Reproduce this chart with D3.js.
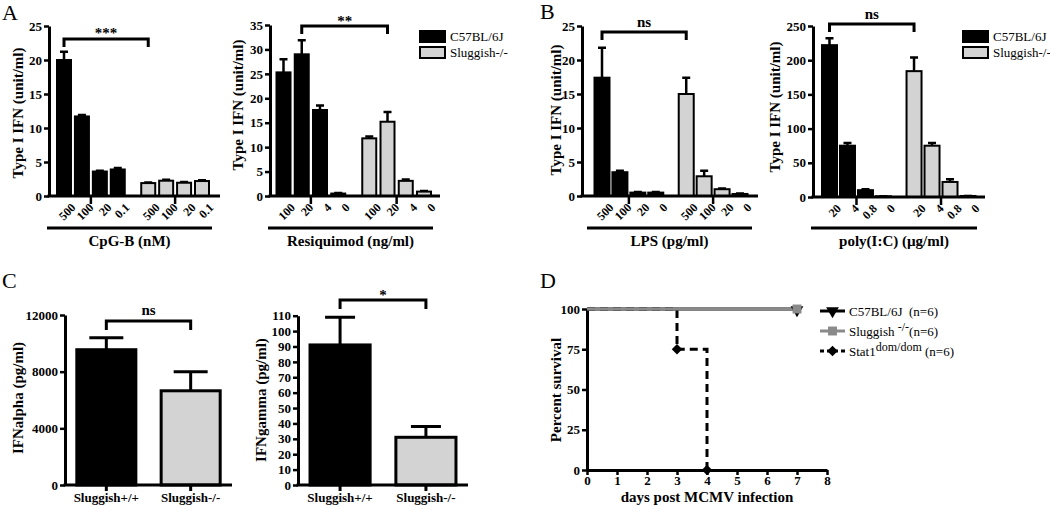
<!DOCTYPE html>
<html><head><meta charset="utf-8">
<script src="https://cdn.jsdelivr.net/npm/d3@7"></script>
<style>
body{margin:0;background:#fff}
svg{display:block}
text{font-family:"Liberation Serif","Times New Roman",serif;fill:#000}
</style>
</head><body>
<svg id="c" width="1050" height="507"></svg>
<script>
// ---------- DATA ----------
const strains = ["C57BL/6J", "Sluggish-/-"];
const cpgDoses = ["500", "100", "20", "0.1"];
const cpgWT = [20.0, 11.7, 3.6, 3.9];
const cpgWTErr = [1.2, 0.2, 0.1, 0.2];
const cpgKO = [1.9, 2.25, 1.95, 2.2];
const cpgKOErr = [0.1, 0.15, 0.1, 0.1];

const resDoses = ["100", "20", "4", "0"];
const resWT = [25.3, 29.0, 17.6, 0.5];
const resWTErr = [2.7, 2.9, 0.9, 0.1];
const resKO = [11.8, 15.2, 3.1, 0.9];
const resKOErr = [0.4, 2.0, 0.3, 0.1];

const lpsDoses = ["500", "100", "20", "0"];
const lpsWT = [17.4, 3.5, 0.5, 0.5];
const lpsWTErr = [4.4, 0.2, 0.1, 0.1];
const lpsKO = [15.0, 2.9, 1.0, 0.3];
const lpsKOErr = [2.4, 0.8, 0.1, 0.05];

const polyDoses = ["20", "4", "0.8", "0"];
const polyWT = [222, 75, 10, 1];
const polyWTErr = [10, 4, 1.5, 0];
const polyKO = [184, 75, 22, 1.5];
const polyKOErr = [20, 4, 4, 0];

const cGroups = ["Sluggish+/+", "Sluggish-/-"];
const ifnAlpha = [9550, 6650];
const ifnAlphaErr = [850, 1350];
const alphaTicks = [0, 4000, 8000, 12000];
const ifnGamma = [91, 31];
const ifnGammaErr = [18, 7];
const gammaTicks = d3.range(0, 111, 10);

const survDays = [0, 1, 2, 3, 4, 5, 6, 7, 8];
const survTicks = [0, 25, 50, 75, 100];
const survC57 = [[0, 100], [7, 100]];
const survSlug = [[0, 100], [7, 100]];
const survStat1 = [[0, 100], [3, 75], [4, 0]];
const survLegend = ["C57BL/6J", "Sluggish", "Stat1"];

// ---------- DRAW ----------
const svg = d3.select("#c");
const BLACK = "#000", GREY = "#d3d3d3", LGREY = "#8a8a8a";

function styleAxis(g, fs) {
  g.select(".domain").attr("stroke", BLACK).attr("stroke-width", 3);
  g.selectAll(".tick line").attr("stroke", BLACK).attr("stroke-width", 2.5);
  g.selectAll(".tick text").attr("font-family", '"Liberation Serif",serif')
    .attr("font-weight", "bold").attr("font-size", fs || 13).attr("fill", BLACK);
}

function barPanel(c) {
  const g = svg.append("g");
  const slots = [0, 1, 2, 3, 4.7, 5.7, 6.7, 7.7];
  const x = d3.scaleLinear().domain([0, 7.7]).range([c.firstC, c.lastC]);
  const y = d3.scaleLinear().domain([0, c.max]).range([c.y0, c.yTop]);
  const data = c.labels.map((l, i) => ({l, v: c.wt[i], e: c.wtErr[i], fill: BLACK, s: slots[i]}))
    .concat(c.labels.map((l, i) => ({l, v: c.ko[i], e: c.koErr[i], fill: GREY, s: slots[i + 4]})));
  const bw = c.bw || 14;
  g.selectAll(".eb").data(data).join("path")
    .attr("d", d => `M${x(d.s)},${y(d.v)}V${y(d.v + d.e)}M${x(d.s) - 4},${y(d.v + d.e)}H${x(d.s) + 4}`)
    .attr("stroke", BLACK).attr("stroke-width", 2.5).attr("fill", "none");
  g.selectAll(".bar").data(data).join("rect")
    .attr("x", d => x(d.s) - bw / 2).attr("y", d => y(d.v))
    .attr("width", bw).attr("height", d => c.y0 - y(d.v))
    .attr("fill", d => d.fill).attr("stroke", BLACK).attr("stroke-width", 2);
  const ya = g.append("g").attr("transform", `translate(${c.axisX},0)`)
    .call(d3.axisLeft(y).tickValues(d3.range(0, c.max + 0.001, c.step)).tickSize(5).tickSizeOuter(0).tickPadding(2));
  styleAxis(ya);
  g.append("line").attr("x1", c.axisX - 1.5).attr("x2", c.xEnd).attr("y1", c.y0).attr("y2", c.y0)
    .attr("stroke", BLACK).attr("stroke-width", 3);
  [1.5, 6.2].forEach(s => g.append("line").attr("x1", x(s)).attr("x2", x(s))
    .attr("y1", c.y0).attr("y2", c.y0 + 8).attr("stroke", BLACK).attr("stroke-width", 2.5));
  const lab = g.selectAll("g.xl").data(data).join("g").attr("class", "xl")
    .attr("transform", d => `translate(${x(d.s) + 6},${c.y0 + 6})`);
  lab.append("text").attr("transform", "rotate(-45)")
    .attr("text-anchor", "end").attr("dy", "0.75em")
    .attr("font-size", 12).attr("font-weight", "bold").text(d => d.l);
  g.append("line").attr("x1", c.ulStart).attr("x2", c.ulEnd).attr("y1", 228).attr("y2", 228)
    .attr("stroke", BLACK).attr("stroke-width", 3);
  g.append("text").attr("x", (c.ulStart + c.ulEnd) / 2).attr("y", 246).attr("text-anchor", "middle")
    .attr("font-size", 15).attr("font-weight", "bold").text(c.xTitle);
  g.append("text").attr("transform", `translate(${c.yTitleX},${c.yTitleY}) rotate(-90)`)
    .attr("text-anchor", "middle").attr("dy", "0.35em")
    .attr("font-size", 15).attr("font-weight", "bold").text("Type I IFN (unit/ml)");
  const xa = x(c.sigFrom), xb = x(c.sigTo);
  g.append("path").attr("d", `M${xa},${c.sigY + 8}V${c.sigY}H${xb}V${c.sigY + 8}`)
    .attr("fill", "none").attr("stroke", BLACK).attr("stroke-width", 3);
  g.append("text").attr("x", (xa + xb) / 2).attr("y", c.sigTextY).attr("text-anchor", "middle")
    .attr("font-size", 15).attr("font-weight", "bold").text(c.sig);
}

barPanel({axisX: 49, xEnd: 220, y0: 196, yTop: 26, max: 25, step: 5, firstC: 64, lastC: 202,
  labels: cpgDoses, wt: cpgWT, wtErr: cpgWTErr, ko: cpgKO, koErr: cpgKOErr,
  ulStart: 47, ulEnd: 212, xTitle: "CpG-B (nM)", yTitleX: 18, yTitleY: 113,
  sigFrom: 0, sigTo: 4.7, sigY: 39, sigTextY: 38, sig: "***"});
barPanel({axisX: 270, xEnd: 440, y0: 196, yTop: 25, max: 35, step: 5, firstC: 283.5, lastC: 424,
  labels: resDoses, wt: resWT, wtErr: resWTErr, ko: resKO, koErr: resKOErr,
  ulStart: 268, ulEnd: 433, xTitle: "Resiquimod (ng/ml)", yTitleX: 238, yTitleY: 105,
  sigFrom: 1, sigTo: 5.7, sigY: 26, sigTextY: 26, sig: "**"});
barPanel({axisX: 582, xEnd: 758, y0: 196, yTop: 26, max: 25, step: 5, firstC: 602, lastC: 740,
  labels: lpsDoses, wt: lpsWT, wtErr: lpsWTErr, ko: lpsKO, koErr: lpsKOErr, bw: 15,
  ulStart: 587, ulEnd: 752, xTitle: "LPS (pg/ml)", yTitleX: 556, yTitleY: 110,
  sigFrom: 0, sigTo: 4.7, sigY: 32, sigTextY: 27, sig: "ns"});
barPanel({axisX: 813, xEnd: 985, y0: 197, yTop: 26, max: 250, step: 50, firstC: 829.5, lastC: 968,
  labels: polyDoses, wt: polyWT, wtErr: polyWTErr, ko: polyKO, koErr: polyKOErr, bw: 15,
  ulStart: 811, ulEnd: 977, xTitle: "poly(I:C) (\u00b5g/ml)", yTitleX: 775, yTitleY: 107,
  sigFrom: 0, sigTo: 4.7, sigY: 24, sigTextY: 19, sig: "ns"});

function barLegend(x0) {
  const lg = svg.append("g");
  strains.forEach((s, i) => {
    lg.append("rect").attr("x", x0).attr("y", 31 + i * 16).attr("width", 25).attr("height", 11)
      .attr("fill", i ? GREY : BLACK).attr("stroke", BLACK).attr("stroke-width", 2);
    lg.append("text").attr("x", x0 + 30).attr("y", 41 + i * 16).attr("font-size", 13).text(s);
  });
}
barLegend(420);
barLegend(963);

[["A", 2, 20], ["B", 540, 19], ["C", 2, 288], ["D", 540, 288]].forEach(([t, x, y]) =>
  svg.append("text").attr("x", x).attr("y", y).attr("font-size", 22).text(t));

function cPanel(c) {
  const g = svg.append("g");
  const x = d3.scaleBand().domain(cGroups).range([c.axisX, c.xEnd]).paddingInner(0.3).paddingOuter(0.14);
  const y = d3.scaleLinear().domain([0, c.max]).range([c.y0, c.yTop]);
  const data = cGroups.map((k, i) => ({k, v: c.vals[i], e: c.errs[i], fill: i ? GREY : BLACK}));
  const cx = d => x(d.k) + x.bandwidth() / 2;
  g.selectAll(".eb").data(data).join("path")
    .attr("d", d => `M${cx(d)},${y(d.v)}V${y(d.v + d.e)}M${cx(d) - c.cap / 2},${y(d.v + d.e)}H${cx(d) + c.cap / 2}`)
    .attr("stroke", BLACK).attr("stroke-width", 3).attr("fill", "none");
  g.selectAll(".bar").data(data).join("rect")
    .attr("x", d => x(d.k)).attr("y", d => y(d.v)).attr("width", x.bandwidth())
    .attr("height", d => c.y0 - y(d.v)).attr("fill", d => d.fill)
    .attr("stroke", BLACK).attr("stroke-width", 3);
  const ya = g.append("g").attr("transform", `translate(${c.axisX},0)`)
    .call(d3.axisLeft(y).tickValues(c.ticks).tickSize(5).tickSizeOuter(0).tickPadding(2).tickFormat(d3.format("d")));
  styleAxis(ya);
  g.append("line").attr("x1", c.axisX - 1.5).attr("x2", c.xEnd).attr("y1", c.y0).attr("y2", c.y0)
    .attr("stroke", BLACK).attr("stroke-width", 3);
  data.forEach(d => {
    g.append("line").attr("x1", cx(d)).attr("x2", cx(d)).attr("y1", c.y0).attr("y2", c.y0 + 6)
      .attr("stroke", BLACK).attr("stroke-width", 3);
    g.append("text").attr("x", cx(d)).attr("y", 502).attr("text-anchor", "middle")
      .attr("font-size", 13).attr("font-weight", "bold").text(d.k);
  });
  g.append("text").attr("transform", `translate(${c.yTitleX},${c.yTitleY}) rotate(-90)`)
    .attr("text-anchor", "middle").attr("dy", "0.35em")
    .attr("font-size", 15).attr("font-weight", "bold").text(c.yTitle);
  const xa = cx(data[0]), xb = cx(data[1]);
  g.append("path").attr("d", `M${xa},${c.sigY + 9}V${c.sigY}H${xb}V${c.sigY + 9}`)
    .attr("fill", "none").attr("stroke", BLACK).attr("stroke-width", 3);
  g.append("text").attr("x", (xa + xb) / 2).attr("y", c.sigTextY).attr("text-anchor", "middle")
    .attr("font-size", 15).attr("font-weight", "bold").text(c.sig);
}
cPanel({axisX: 65, xEnd: 232, y0: 485, yTop: 315, max: 12000, ticks: alphaTicks, vals: ifnAlpha, errs: ifnAlphaErr,
  cap: 34, yTitle: "IFNalpha (pg/ml)", yTitleX: 18, yTitleY: 398, sigY: 321, sigTextY: 315, sig: "ns"});
cPanel({axisX: 298, xEnd: 468, y0: 485, yTop: 315.7, max: 110, ticks: gammaTicks, vals: ifnGamma, errs: ifnGammaErr,
  cap: 30, yTitle: "IFNgamma (pg/ml)", yTitleX: 261, yTitleY: 400, sigY: 300, sigTextY: 300, sig: "*"});

(function () {
  const g = svg.append("g");
  const x = d3.scaleLinear().domain([0, 8]).range([587, 827]);
  const y = d3.scaleLinear().domain([0, 100]).range([470, 309]);
  const xa = g.append("g").attr("transform", "translate(0,470)")
    .call(d3.axisBottom(x).tickValues(survDays).tickSize(5).tickSizeOuter(0).tickPadding(1).tickFormat(d3.format("d")));
  styleAxis(xa, 13);
  const ya = g.append("g").attr("transform", "translate(587,0)")
    .call(d3.axisLeft(y).tickValues(survTicks).tickSize(5).tickSizeOuter(0).tickPadding(2));
  styleAxis(ya, 13);
  g.append("text").attr("x", 707).attr("y", 502).attr("text-anchor", "middle")
    .attr("font-size", 15).attr("font-weight", "bold").text("days post MCMV infection");
  g.append("text").attr("transform", "translate(556,390) rotate(-90)").attr("text-anchor", "middle")
    .attr("dy", "0.35em").attr("font-size", 15).attr("font-weight", "bold").text("Percent survival");
  const line = d3.line().x(d => x(d[0])).y(d => y(d[1])).curve(d3.curveStepAfter);
  g.append("path").attr("d", line(survStat1)).attr("fill", "none").attr("stroke", BLACK)
    .attr("stroke-width", 3).attr("stroke-dasharray", "8,5");
  g.append("path").attr("d", line(survC57)).attr("fill", "none").attr("stroke", BLACK).attr("stroke-width", 3);
  g.append("path").attr("d", line(survSlug)).attr("fill", "none").attr("stroke", LGREY).attr("stroke-width", 3);
  const tri = d3.symbol().type(d3.symbolTriangle).size(70);
  const sq = d3.symbol().type(d3.symbolSquare).size(80);
  const dia = d3.symbol().type(d3.symbolSquare).size(55);
  g.selectAll(".t").data(survC57.slice(1)).join("path").attr("d", tri)
    .attr("transform", d => `translate(${x(d[0])},${y(d[1]) + 1}) rotate(180)`).attr("fill", BLACK);
  g.selectAll(".s").data(survSlug.slice(1)).join("path").attr("d", sq)
    .attr("transform", d => `translate(${x(d[0])},${y(d[1])})`).attr("fill", LGREY);
  g.selectAll(".d").data(survStat1.slice(1)).join("path").attr("d", dia)
    .attr("transform", d => `translate(${x(d[0])},${y(d[1])}) rotate(45)`).attr("fill", BLACK);
  const items = [
    {name: survLegend[0], sup: null, tail: "\u00a0\u00a0(n=6)", col: BLACK, sym: tri, rot: 180, dash: null},
    {name: survLegend[1] + " ", sup: "-/-", tail: "(n=6)", col: LGREY, sym: sq, rot: 0, dash: null},
    {name: survLegend[2], sup: "dom/dom", tail: " (n=6)", col: BLACK, sym: dia, rot: 45, dash: "4,3"}
  ];
  items.forEach((it, i) => {
    const yy = 311 + i * 20;
    g.append("line").attr("x1", 820).attr("x2", 845).attr("y1", yy).attr("y2", yy)
      .attr("stroke", it.col).attr("stroke-width", 3).attr("stroke-dasharray", it.dash);
    g.append("path").attr("d", it.sym).attr("fill", it.col)
      .attr("transform", `translate(832.5,${yy}) rotate(${it.rot})`);
    const t = g.append("text").attr("x", 849).attr("y", yy + 4.5).attr("font-size", 13);
    t.append("tspan").text(it.name);
    if (it.sup) {
      t.append("tspan").attr("dy", -5).attr("font-size", 12).text(it.sup);
      t.append("tspan").attr("dy", 5).text(it.tail);
    } else t.append("tspan").text(it.tail);
  });
})();
</script>
</body></html>
